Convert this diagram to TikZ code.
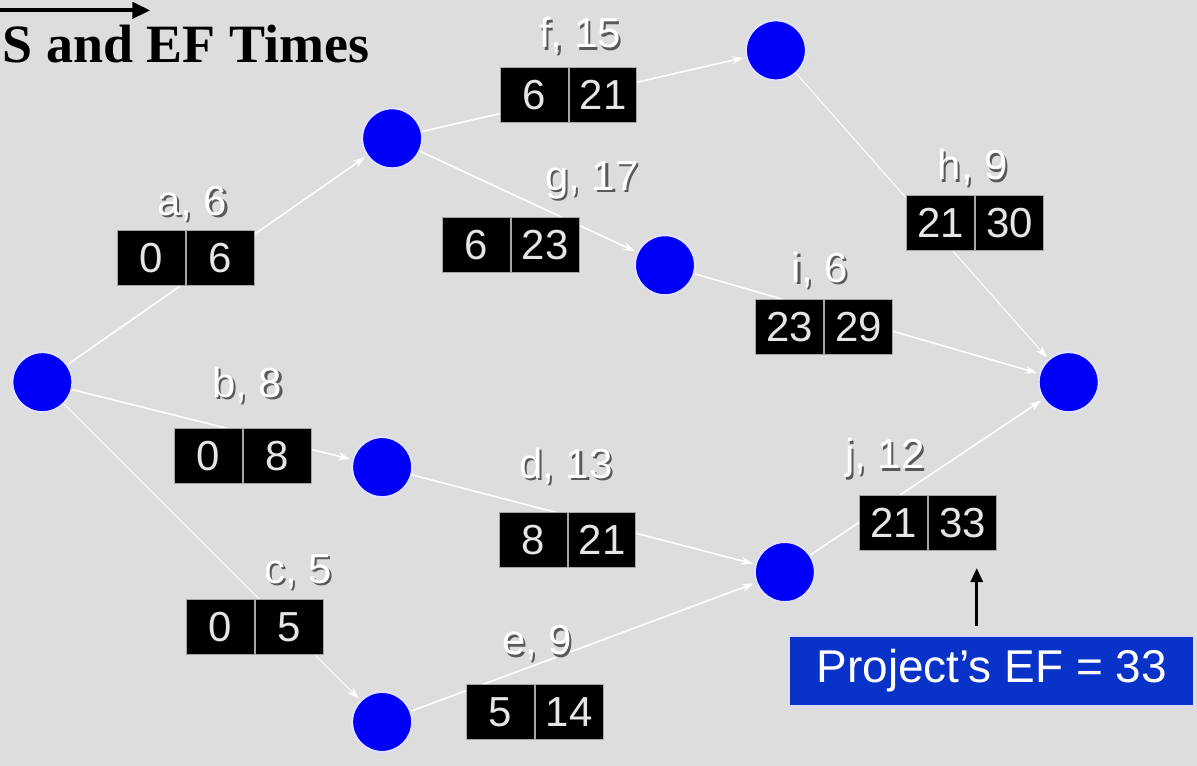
\documentclass[tikz,border=0pt]{standalone}
\usepackage{fontspec}
\setmainfont{Liberation Sans}
\newfontfamily\titlefont{Liberation Serif}
\usetikzlibrary{positioning,arrows.meta}

\definecolor{slidegray}{RGB}{221,221,221}
\definecolor{eventblue}{RGB}{0,0,250}
\definecolor{efblue}{RGB}{8,50,200}

\tikzset{
	event/.style={circle, fill=eventblue, draw=blue!12!white, line width=1pt, minimum size=30pt, inner sep=0pt},
	activity/.style={draw=white, line width=0.8pt, -{Stealth[length=6pt,width=4pt]}, shorten >=1pt},
	cell/.style={fill=black, draw=gray!70, line width=0.5pt, minimum width=34pt, minimum height=27.5pt, inner sep=0pt, text=white!90!black, font=\fontsize{21}{21}\selectfont},
	actname/.style={text=white, font=\fontsize{21}{21}\selectfont},
	actshade/.style={text=black!65, font=\fontsize{21}{21}\selectfont, xshift=1.1pt, yshift=-1.1pt},
}

% name, position, text
\newcommand{\actlabel}[3]{%
	\node[actshade] (#1-name-s) at (#2) {#3};
	\node[actname] (#1-name) at (#2) {#3};
}

\begin{document}
\begin{tikzpicture}[x=0.5pt,y=-0.5pt]

	%Background
	\draw[draw=slidegray, fill=slidegray] (0,0) rectangle (1197,765);
	\useasboundingbox (0,0) rectangle (1197,765);

	%Title
	\coordinate (t0) at (-2,10);
	\coordinate (t1) at (150,10);
	\draw[line width=2pt, -{Triangle[length=9pt,width=8pt]}] (t0) -- (t1);
	\node[anchor=base west, inner sep=0pt, font=\titlefont\bfseries\fontsize{27}{27}\selectfont] (title) at (2,62) {S and EF Times};

	%Events
	\node[event] (e1) at (42,382) {};
	\node[event] (e2) at (392,138) {};
	\node[event] (e3) at (776,50) {};
	\node[event] (e4) at (665,265) {};
	\node[event] (e5) at (1069,382) {};
	\node[event] (e6) at (382,467) {};
	\node[event] (e7) at (785,572) {};
	\node[event] (e8) at (382,722) {};

	%Activities
	\draw[activity] (e1) -- (e2);
	\draw[activity] (e1) -- (e6);
	\draw[activity, line width=0.5pt] (e1) -- (e8);
	\draw[activity] (e6) -- (e7);
	\draw[activity] (e8) -- (e7);
	\draw[activity] (e2) -- (e3);
	\draw[activity] (e2) -- (e4);
	\draw[activity, line width=0.5pt] (e3) -- (e5);
	\draw[activity] (e4) -- (e5);
	\draw[activity] (e7) -- (e5);

	%ES / EF boxes
	%a
	\actlabel{a}{192,203}{a, 6}
	\node[cell] (a-es) at (151,258) {0};
	\node[cell, right=0pt of a-es] (a-ef) {6};

	%b
	\actlabel{b}{247,385}{b, 8}
	\node[cell] (b-es) at (208,456) {0};
	\node[cell, right=0pt of b-es] (b-ef) {8};

	%c
	\actlabel{c}{298,572}{c, 5}
	\node[cell] (c-es) at (220,627) {0};
	\node[cell, right=0pt of c-es] (c-ef) {5};

	%d
	\actlabel{d}{566,466}{d, 13}
	\node[cell] (d-es) at (533,540) {8};
	\node[cell, right=0pt of d-es] (d-ef) {21};

	%e
	\actlabel{e}{537,643}{e, 9}
	\node[cell] (e-es) at (500,712) {5};
	\node[cell, right=0pt of e-es] (e-ef) {14};

	%f
	\actlabel{f}{580,35}{f, 15}
	\node[cell] (f-es) at (534,95) {6};
	\node[cell, right=0pt of f-es] (f-ef) {21};

	%g
	\actlabel{g}{592,180}{g, 17}
	\node[cell] (g-es) at (476,245) {6};
	\node[cell, right=0pt of g-es] (g-ef) {23};

	%h
	\actlabel{h}{973,167}{h, 9}
	\node[cell] (h-es) at (941,223) {21};
	\node[cell, right=0pt of h-es] (h-ef) {30};

	%i
	\actlabel{i}{820,270}{i, 6}
	\node[cell] (i-es) at (790,327) {23};
	\node[cell, right=0pt of i-es] (i-ef) {29};

	%j
	\actlabel{j}{885,458}{j, 12}
	\node[cell] (j-es) at (894,523) {21};
	\node[cell, right=0pt of j-es] (j-ef) {33};

	%Project EF
	\node[fill=efblue, draw=white!85!blue, line width=0.6pt, minimum width=202pt, minimum height=35pt, text=white, font=\fontsize{23}{23}\selectfont] (ef) at (992,671) {Project's EF = 33};
	\coordinate (ef-tip) at (977,568);
	\draw[line width=1.5pt, -{Triangle[length=7pt,width=6pt]}, shorten <=4.5pt] (ef.north -| ef-tip) -- (ef-tip);

\end{tikzpicture}
\end{document}
